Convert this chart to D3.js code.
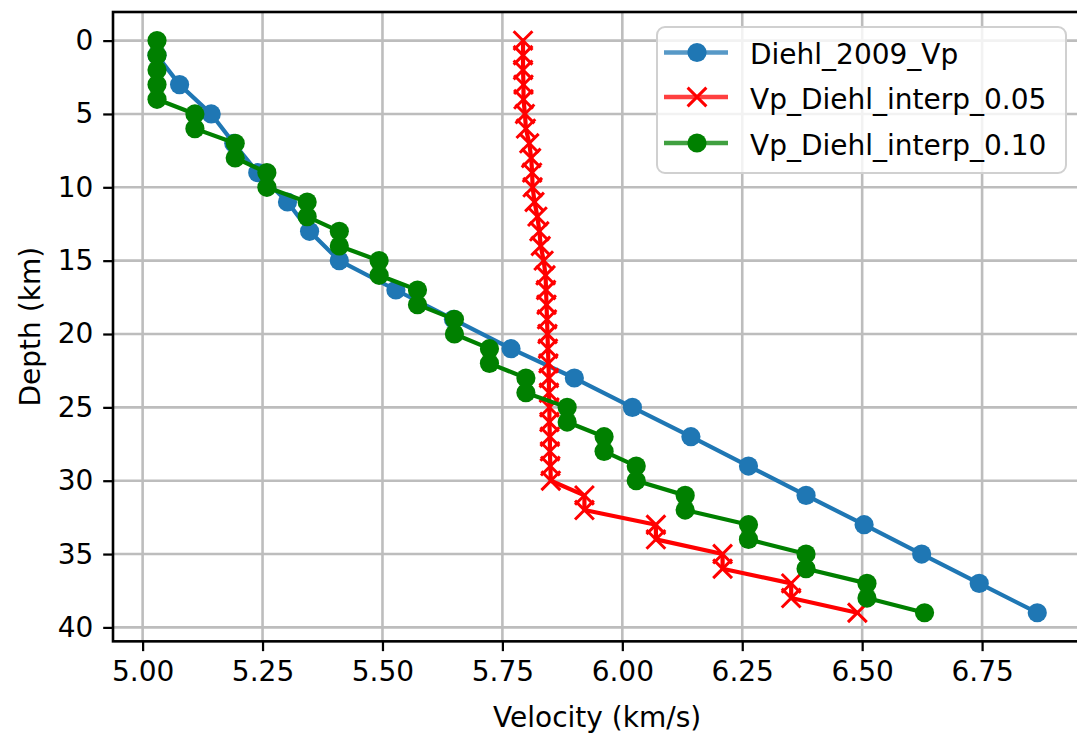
<!DOCTYPE html>
<html>
<head>
<meta charset="utf-8">
<script src="https://cdn.jsdelivr.net/npm/d3@7"></script>
<style>
  html, body { margin: 0; padding: 0; background: #ffffff; }
  svg { display: block; }
  text { font-family: "DejaVu Sans", sans-serif; fill: #000; }
</style>
</head>
<body>
<svg id="chart" width="1077" height="736"></svg>
<script>
// Diehl (2009) P-wave velocity profile, sampled at 2 km layer centres
const diehlDepth = [1, 3, 5, 7, 9, 11, 13, 15, 17, 19, 21, 23, 25, 27, 29, 31, 33, 35, 37, 39];
const diehlVp = [5.030, 5.077, 5.143, 5.190, 5.240, 5.302, 5.348, 5.410, 5.528, 5.648,
                 5.768, 5.900, 6.021, 6.143, 6.263, 6.383, 6.504, 6.624, 6.744, 6.865];

// Interpolated profiles on a 1 km depth grid
const interpDepth = d3.range(0, 40);
const vpInterp005 = [5.793, 5.793, 5.793, 5.794, 5.794, 5.797, 5.799, 5.806, 5.810, 5.812,
                     5.813, 5.817, 5.823, 5.827, 5.830, 5.836, 5.840, 5.841, 5.842, 5.843,
                     5.844, 5.845, 5.846, 5.847, 5.847, 5.848, 5.848, 5.849, 5.849, 5.850,
                     5.851, 5.921, 5.921, 6.070, 6.070, 6.209, 6.209, 6.352, 6.352, 6.490];
const vpInterp010 = [5.030, 5.030, 5.030, 5.030, 5.030, 5.109, 5.109, 5.193, 5.193, 5.259,
                     5.259, 5.343, 5.343, 5.410, 5.410, 5.493, 5.493, 5.573, 5.573, 5.650,
                     5.650, 5.723, 5.723, 5.799, 5.799, 5.885, 5.885, 5.962, 5.962, 6.029,
                     6.029, 6.131, 6.131, 6.263, 6.263, 6.383, 6.383, 6.510, 6.510, 6.630];

const seriesNames = ["Diehl_2009_Vp", "Vp_Diehl_interp_0.05", "Vp_Diehl_interp_0.10"];
const seriesColors = ["#1f77b4", "#ff0000", "#008000"];
const seriesMarkers = ["o", "x", "o"];

const xTicks = [5.00, 5.25, 5.50, 5.75, 6.00, 6.25, 6.50, 6.75];
const yTicks = [0, 5, 10, 15, 20, 25, 30, 35, 40];

(function draw() {
  const series = [
    { name: seriesNames[0], color: seriesColors[0], marker: seriesMarkers[0],
      pts: diehlDepth.map((d, i) => ({ depth: d, v: diehlVp[i] })) },
    { name: seriesNames[1], color: seriesColors[1], marker: seriesMarkers[1],
      pts: interpDepth.map((d, i) => ({ depth: d, v: vpInterp005[i] })) },
    { name: seriesNames[2], color: seriesColors[2], marker: seriesMarkers[2],
      pts: interpDepth.map((d, i) => ({ depth: d, v: vpInterp010[i] })) }
  ];

  const svg = d3.select("#chart");
  const FS = 28;

  // Axis limits with 5% padding around the data
  const allV = series.flatMap(s => s.pts.map(p => p.v));
  const allD = series.flatMap(s => s.pts.map(p => p.depth));
  const [vMin, vMax] = d3.extent(allV);
  const [dMin, dMax] = d3.extent(allD);
  const vPad = (vMax - vMin) * 0.05, dPad = (dMax - dMin) * 0.05;

  const plotLeft = 113, plotTop = 12;
  const pxPerV = 479.7, pxPerD = 14.67;
  const xDom = [vMin - vPad, vMax + vPad];
  const yDom = [dMin - dPad, dMax + dPad];
  const plotRight = plotLeft + (xDom[1] - xDom[0]) * pxPerV;
  const plotBottom = plotTop + (yDom[1] - yDom[0]) * pxPerD;

  const x = d3.scaleLinear().domain(xDom).range([plotLeft, plotRight]);
  const y = d3.scaleLinear().domain(yDom).range([plotTop, plotBottom]);

  // Grid
  const grid = svg.append("g");
  grid.selectAll("line.gx").data(xTicks).join("line")
    .attr("class", "gx")
    .attr("x1", d => x(d)).attr("x2", d => x(d))
    .attr("y1", plotTop).attr("y2", plotBottom)
    .attr("stroke", "#bdbdbd").attr("stroke-width", 2.6);
  grid.selectAll("line.gy").data(yTicks).join("line")
    .attr("class", "gy")
    .attr("y1", d => y(d)).attr("y2", d => y(d))
    .attr("x1", plotLeft).attr("x2", plotRight)
    .attr("stroke", "#bdbdbd").attr("stroke-width", 2.6);

  // Data
  const line = d3.line().x(p => x(p.v)).y(p => y(p.depth));
  const R = 9.6;
  const XH = 9.4;
  const xMark = (cx, cy, h) => `M${cx - h},${cy - h}L${cx + h},${cy + h}M${cx - h},${cy + h}L${cx + h},${cy - h}`;
  const data = svg.append("g");
  series.forEach(s => {
    const g = data.append("g");
    g.append("path").datum(s.pts)
      .attr("d", line).attr("fill", "none")
      .attr("stroke", s.color).attr("stroke-width", 4.2)
      .attr("stroke-linejoin", "round").attr("stroke-linecap", "square");
    if (s.marker === "o") {
      g.selectAll("circle").data(s.pts).join("circle")
        .attr("cx", p => x(p.v)).attr("cy", p => y(p.depth)).attr("r", R)
        .attr("fill", s.color);
    } else {
      g.selectAll("path.mk").data(s.pts).join("path")
        .attr("class", "mk")
        .attr("d", p => xMark(x(p.v), y(p.depth), XH))
        .attr("stroke", s.color).attr("stroke-width", 3).attr("fill", "none");
    }
  });

  // Axes
  const xAxis = svg.append("g").attr("transform", `translate(0,${plotBottom})`)
    .call(d3.axisBottom(x).tickValues(xTicks).tickFormat(d3.format(".2f"))
      .tickSize(9.8).tickPadding(9.8));
  const yAxis = svg.append("g").attr("transform", `translate(${plotLeft},0)`)
    .call(d3.axisLeft(y).tickValues(yTicks).tickFormat(d3.format("d"))
      .tickSize(9.8).tickPadding(9.8));
  [xAxis, yAxis].forEach(a => {
    a.select(".domain").remove();
    a.selectAll(".tick line").attr("stroke", "#000").attr("stroke-width", 2.24);
    a.selectAll(".tick text").attr("font-size", FS).attr("font-family", "DejaVu Sans").attr("fill", "#000");
  });

  // Frame
  svg.append("rect")
    .attr("x", plotLeft).attr("y", plotTop)
    .attr("width", plotRight - plotLeft).attr("height", plotBottom - plotTop)
    .attr("fill", "none").attr("stroke", "#000").attr("stroke-width", 2.6);

  // Axis titles
  svg.append("text")
    .attr("x", (plotLeft + plotRight) / 2).attr("y", 727)
    .attr("text-anchor", "middle").attr("font-size", FS)
    .text("Velocity (km/s)");
  svg.append("text")
    .attr("transform", `translate(40,${(plotTop + plotBottom) / 2}) rotate(-90)`)
    .attr("text-anchor", "middle").attr("font-size", FS)
    .text("Depth (km)");

  // Legend
  const lg = svg.append("g");
  lg.append("rect")
    .attr("x", 657).attr("y", 27).attr("width", 409).attr("height", 146)
    .attr("rx", 8).attr("ry", 8)
    .attr("fill", "#ffffff").attr("fill-opacity", 0.8)
    .attr("stroke", "#d0d0d0").attr("stroke-width", 2);
  const rowY = [52.5, 97, 143];
  series.forEach((s, i) => {
    const cy = rowY[i];
    lg.append("line")
      .attr("x1", 664).attr("x2", 728).attr("y1", cy).attr("y2", cy)
      .attr("stroke", s.color).attr("stroke-width", 4.6).attr("stroke-opacity", 0.75);
    if (s.marker === "o") {
      lg.append("circle").attr("cx", 697).attr("cy", cy).attr("r", R).attr("fill", s.color);
    } else {
      lg.append("path")
        .attr("d", xMark(697, cy, XH))
        .attr("stroke", s.color).attr("stroke-width", 3);
    }
    lg.append("text")
      .attr("x", 750).attr("y", cy + 2).attr("dy", "0.35em")
      .attr("font-size", FS).text(s.name);
  });
})();
</script>
</body>
</html>
